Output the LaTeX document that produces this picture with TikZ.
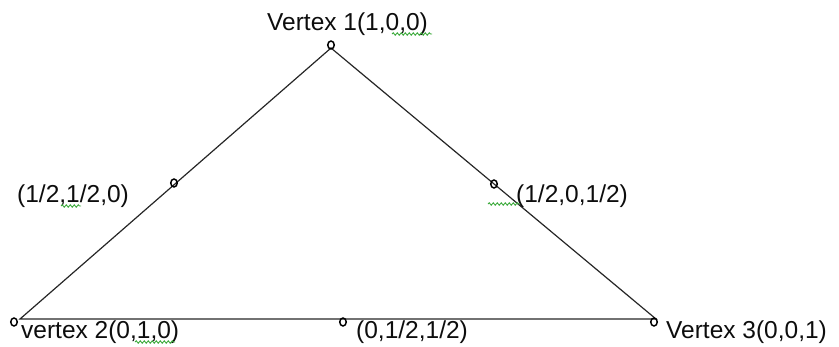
\documentclass[tikz,border=0pt]{standalone}
\usepackage{fontspec}
\setmainfont{Liberation Sans}
\usetikzlibrary{decorations.pathmorphing,shapes.geometric}
\definecolor{spellgreen}{RGB}{60,170,60}
\begin{document}
\begin{tikzpicture}[x=1pt,y=-1pt,
  edge/.style={draw=black!85,line width=1.2pt},
  marker/.style={draw=black,line width=1.5pt,ellipse,inner sep=0pt,minimum width=6.5pt,minimum height=8pt},
  lbl/.style={anchor=base west,inner sep=0pt,font=\fontsize{24.5}{28}\selectfont,text=black!95},
  squiggle/.style={draw=spellgreen,line width=0.9pt,decorate,decoration={snake,segment length=4pt,amplitude=1.2pt}}]
\useasboundingbox (0,0) rectangle (839,346);
% corners of the triangle
\coordinate (A) at (331,48);
\coordinate (B) at (20,319);
\coordinate (C) at (656,319);
\draw[edge] (A) -- (B) -- (C) -- cycle;
% markers
\node[marker] (v1) at (331,45) {};
\node[marker] (v2) at (14,322) {};
\node[marker] (v3) at (654,322) {};
\node[marker] (m12) at (174,183) {};
\node[marker] (m13) at (494,184) {};
\node[marker] (m23) at (343,322) {};
% labels
\node[lbl] (l1) at (267,30) {Vertex 1(1,0,0)};
\node[lbl] (l12) at (17,202) {(1/2,1/2,0)};
\node[lbl] (l13) at (516,202) {(1/2,0,1/2)};
\node[lbl] (l2) at (21,338) {vertex 2(0,1,0)};
\node[lbl] (l23) at (356,338) {(0,1/2,1/2)};
\node[lbl] (l3) at (666,338) {Vertex 3(0,0,1)};
% spell-check squiggles
\coordinate (s1a) at (392,34); \coordinate (s1b) at (432,34);
\coordinate (s2a) at (61,206); \coordinate (s2b) at (81,206);
\coordinate (s3a) at (488,204); \coordinate (s3b) at (520,204);
\coordinate (s4a) at (135,342); \coordinate (s4b) at (175,342);
\draw[squiggle] (s1a) -- (s1b);
\draw[squiggle] (s2a) -- (s2b);
\draw[squiggle] (s3a) -- (s3b);
\draw[squiggle] (s4a) -- (s4b);
\end{tikzpicture}
\end{document}
